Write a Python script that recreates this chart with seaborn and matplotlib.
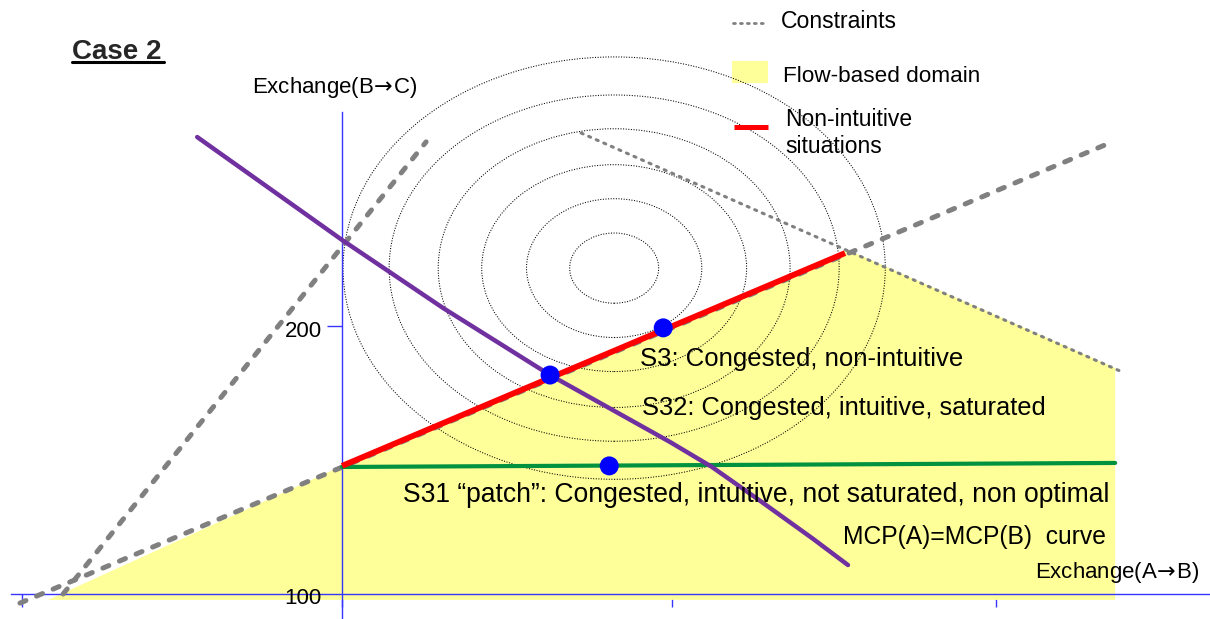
import matplotlib
matplotlib.use("Agg")
import matplotlib.pyplot as plt
from matplotlib.patches import Ellipse, Rectangle
from matplotlib.lines import Line2D
from matplotlib.transforms import Affine2D
import seaborn as sns

W, H = 1210, 619

# ── DATA ──────────────────────────────────────────────────

# flow-based domain outline
domain_x = [-89.9, 0.0, 154.7, 236.4, 236.4]
domain_y = [97.8, 147.8, 228.4, 184.3, 97.8]

# constraint lines
c1_x, c1_y = [-98.5, 235.5], [96.6, 268.7]   # long thick one
c2_x, c2_y = [-85.3, 25.7], [100.0, 268.7]   # steep thick one
c3_x, c3_y = [73.1, 237.9], [272.0, 183.2]   # thin dotted one

# non-intuitive part of constraint 1
red_x, red_y = [0.0, 153.8], [147.8, 227.2]

# S31 patch line
green_x, green_y = [0.0, 236.4], [147.4, 148.9]

# MCP(A)=MCP(B) curve
mcp_x = [-44.3, 0.0, 30.9, 63.6, 100.3, 113.1, 127.8, 144.0, 154.7]
mcp_y = [270.5, 232.1, 206.7, 181.7, 156.7, 147.4, 134.8, 120.6, 110.8]

# situations S32, S3, S31
dot_x = [63.6, 98.2, 81.7]
dot_y = [181.7, 199.3, 147.8]

# welfare iso-contours
ell_cx, ell_cy = 83.2, 221.6
ell_a = [13.6, 26.8, 40.5, 53.8, 68.8, 82.9]
ell_b = [13.1, 25.9, 38.6, 52.0, 64.6, 78.8]

xtick_pos = [-98, 0, 101, 200]
ytick_pos = [100, 200]
ytick_lab = ["100", "200"]

AXIS_BLUE = "#3535ff"
GRAY = "#808080"
ARROW = r"$\!\rightarrow\!$"

# ── PLOT ──────────────────────────────────────────────────

sns.set_theme(style="white")
plt.rcParams["font.family"] = ["Liberation Sans", "DejaVu Sans"]

fig = plt.figure(figsize=(W / 100, H / 100), dpi=100)
ax = fig.add_axes([0, 0, 1, 1])
ax.set_xlim(-104.6, 265.4)
ax.set_ylim(90.67, 321.64)
ax.set_facecolor("white")

# pixel coords of the reference, origin top-left (for texts / legend)
pix = Affine2D().scale(1 / W, -1 / H).translate(0, 1) + fig.transFigure

ax.fill(domain_x, domain_y, color="#ffff99", lw=0, zorder=1)

for a, b in zip(ell_a, ell_b):
    ax.add_patch(Ellipse((ell_cx, ell_cy), 2 * a, 2 * b, fill=False,
                         ec="black", lw=0.75, ls=(0, (1, 1.5)), zorder=2))

for xs, ys in [(c1_x, c1_y), (c2_x, c2_y)]:
    ax.plot(xs, ys, color=GRAY, lw=3.6, ls=(0, (1.3, 2.3)),
            dash_capstyle="round", zorder=3)
ax.plot(c3_x, c3_y, color=GRAY, lw=2.2, ls=(0, (0.7, 2.0)),
        dash_capstyle="round", zorder=3)

ax.plot(green_x, green_y, color="#00923f", lw=3, zorder=3)
ax.plot(red_x, red_y, color="#ff0000", lw=4.2, solid_capstyle="butt", zorder=4)
sns.lineplot(x=mcp_x, y=mcp_y, sort=False, color="#7030a0", linewidth=3.2,
             ax=ax, zorder=4)
sns.scatterplot(x=dot_x, y=dot_y, s=187, color="#0000ff", edgecolor="none",
                ax=ax, zorder=6)

# axes
for s in ["top", "right"]:
    ax.spines[s].set_visible(False)
ax.spines["left"].set_position(("data", 0))
ax.spines["left"].set_bounds(90.67, 279.9)
ax.spines["bottom"].set_position(("data", 100))
ax.spines["bottom"].set_bounds(-101.2, 265.4)
for s in ["left", "bottom"]:
    ax.spines[s].set_color(AXIS_BLUE)
    ax.spines[s].set_linewidth(1)
    ax.spines[s].set_zorder(2.5)

ax.set_xticks(xtick_pos)
ax.set_xticklabels([])
ax.set_yticks(ytick_pos)
ax.set_yticklabels([])
ax.tick_params(axis="x", bottom=True, direction="out", length=9.4, width=1,
               color=AXIS_BLUE)
ax.tick_params(axis="y", left=True, direction="out", length=10.8, width=1,
               color=AXIS_BLUE)
ax.grid(False)

# y tick labels as plain text, right-aligned next to the ticks
for val, lab, base in zip(ytick_pos, ytick_lab, [604, 337]):
    ax.text(322, base, lab, transform=pix, fontsize=16, ha="right",
            va="baseline", color="black", zorder=8)

# texts
ax.text(72, 59, "Case 2", transform=pix, fontsize=20, fontweight="bold",
        va="baseline", zorder=7)
ax.add_line(Line2D([72, 164], [61.5, 61.5], transform=pix, color="black",
                   lw=2.2, clip_on=False))

labels = [
    ("Exchange(B" + ARROW + "C)", 252, 93, 16),
    ("Constraints", 781, 28, 16.6),
    ("Flow-based domain", 783, 82, 16.2),
    ("Non-intuitive", 785, 126, 16.5),
    ("situations", 785, 153, 16.5),
    ("S3: Congested, non-intuitive", 640, 366, 18.5),
    ("S32: Congested, intuitive, saturated", 642, 415, 18.4),
    ("S31 \u201cpatch\u201d: Congested, intuitive, not saturated, non optimal", 403, 502, 19.1),
    ("MCP(A)=MCP(B)  curve", 843, 544, 17.7),
    ("Exchange(A" + ARROW + "B)", 1035, 578, 16),
]
for txt, x, y, fs in labels:
    ax.text(x, y, txt, transform=pix, fontsize=fs, va="baseline", ha="left",
            color="black", zorder=7)

# legend glyphs
ax.add_line(Line2D([733, 765], [22.7, 22.7], transform=pix, color=GRAY,
                   lw=2.0, ls=(0, (0.7, 1.8)), dash_capstyle="round",
                   clip_on=False))
ax.add_patch(Rectangle((732, 61), 36, 22, transform=pix, color="#ffff99",
                       lw=0, clip_on=False))
ax.add_line(Line2D([734, 768], [126.5, 126.5], transform=pix, color="#ff0000",
                   lw=3.6, solid_capstyle="butt", clip_on=False))

fig.savefig("out.png", dpi=100)
